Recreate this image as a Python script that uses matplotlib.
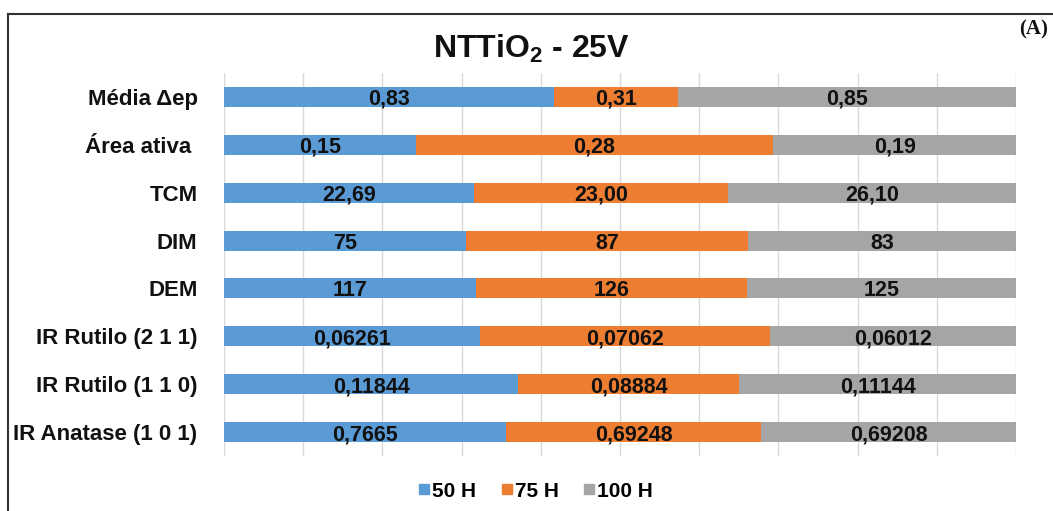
import matplotlib
matplotlib.use("Agg")
import matplotlib.pyplot as plt
from matplotlib.lines import Line2D
import numpy as np

plt.rcParams['font.family'] = ['Liberation Sans', 'DejaVu Sans']
plt.rcParams['mathtext.fontset'] = 'custom'
plt.rcParams['mathtext.bf'] = 'Liberation Sans:bold'
plt.rcParams['mathtext.rm'] = 'Liberation Sans'

categories = ["Média Δep", "Área ativa ", "TCM", "DIM", "DEM",
              "IR Rutilo (2 1 1)", "IR Rutilo (1 1 0)", "IR Anatase (1 0 1)"]
series_names = ["50 H", "75 H", "100 H"]
h50 = [0.83, 0.15, 22.69, 75, 117, 0.06261, 0.11844, 0.7665]
h75 = [0.31, 0.28, 23.00, 87, 126, 0.07062, 0.08884, 0.69248]
h100 = [0.85, 0.19, 26.10, 83, 125, 0.06012, 0.11144, 0.69208]
labels50 = ["0,83", "0,15", "22,69", "75", "117", "0,06261", "0,11844", "0,7665"]
labels75 = ["0,31", "0,28", "23,00", "87", "126", "0,07062", "0,08884", "0,69248"]
labels100 = ["0,85", "0,19", "26,10", "83", "125", "0,06012", "0,11144", "0,69208"]
colors = ["#5B9BD5", "#ED7D31", "#A5A5A5"]

fig = plt.figure(figsize=(10.53, 5.11), dpi=100)
ax = fig.add_axes([224 / 1053, 1 - 456 / 511, (1016 - 224) / 1053, (456 - 73) / 511])

data = np.array([h50, h75, h100], dtype=float)
shares = data / data.sum(axis=0)
y = np.arange(len(categories))
left = np.zeros(len(categories))
for vals, labs, color, name in zip(shares, [labels50, labels75, labels100], colors, series_names):
    ax.barh(y, vals, left=left, height=0.42, color=color, label=name, zorder=2)
    for yi, l, v, t in zip(y, left, vals, labs):
        ax.text(l + v / 2, yi, t, ha="center", va="center_baseline", fontsize=15.5,
                fontweight="bold", color="#111111", zorder=3)
    left = left + vals

ax.set_xlim(0, 1)
ax.set_ylim(len(categories) - 0.5, -0.5)
ax.set_xticks(np.arange(0, 1.01, 0.1))
ax.set_xticklabels([])
ax.tick_params(axis="x", length=0)
ax.tick_params(axis="y", length=0, pad=19)
ax.set_yticks(y)
ax.set_yticklabels(categories, fontsize=16, fontweight="bold", color="#111111",
                   va="center_baseline")
ax.grid(axis="x", color="#D9D9D9", linewidth=1, zorder=0)
for s in ax.spines.values():
    s.set_visible(False)

fig.text(531 / 1053, 1 - 58 / 511, r"NTTiO$_\mathbf{2}$ - 25V", ha="center", va="baseline",
         fontsize=23, fontweight="bold", color="#111111")
fig.text(1034 / 1053, 1 - 29 / 511, "(A)", ha="center", va="center",
         fontsize=15, fontweight="bold", family="Liberation Serif", color="#111111")

handles = [Line2D([], [], marker="s", linestyle="none", markersize=7.5,
                  markerfacecolor=c, markeredgecolor=c) for c in colors]
fig.legend(handles, series_names, loc="center", bbox_to_anchor=(535 / 1053, 1 - 491 / 511),
           ncol=3, frameon=False, prop={"size": 15, "weight": "bold"},
           handletextpad=0.05, columnspacing=1.1, handlelength=0.7)

# outer frame
fig.add_artist(Line2D([8 / 1053, 8 / 1053], [0, 1 - 14 / 511], transform=fig.transFigure,
                      color="#333333", linewidth=1.5))
fig.add_artist(Line2D([8 / 1053, 1], [1 - 14 / 511, 1 - 14 / 511], transform=fig.transFigure,
                      color="#333333", linewidth=1.5))

fig.savefig("out.png", dpi=100)
